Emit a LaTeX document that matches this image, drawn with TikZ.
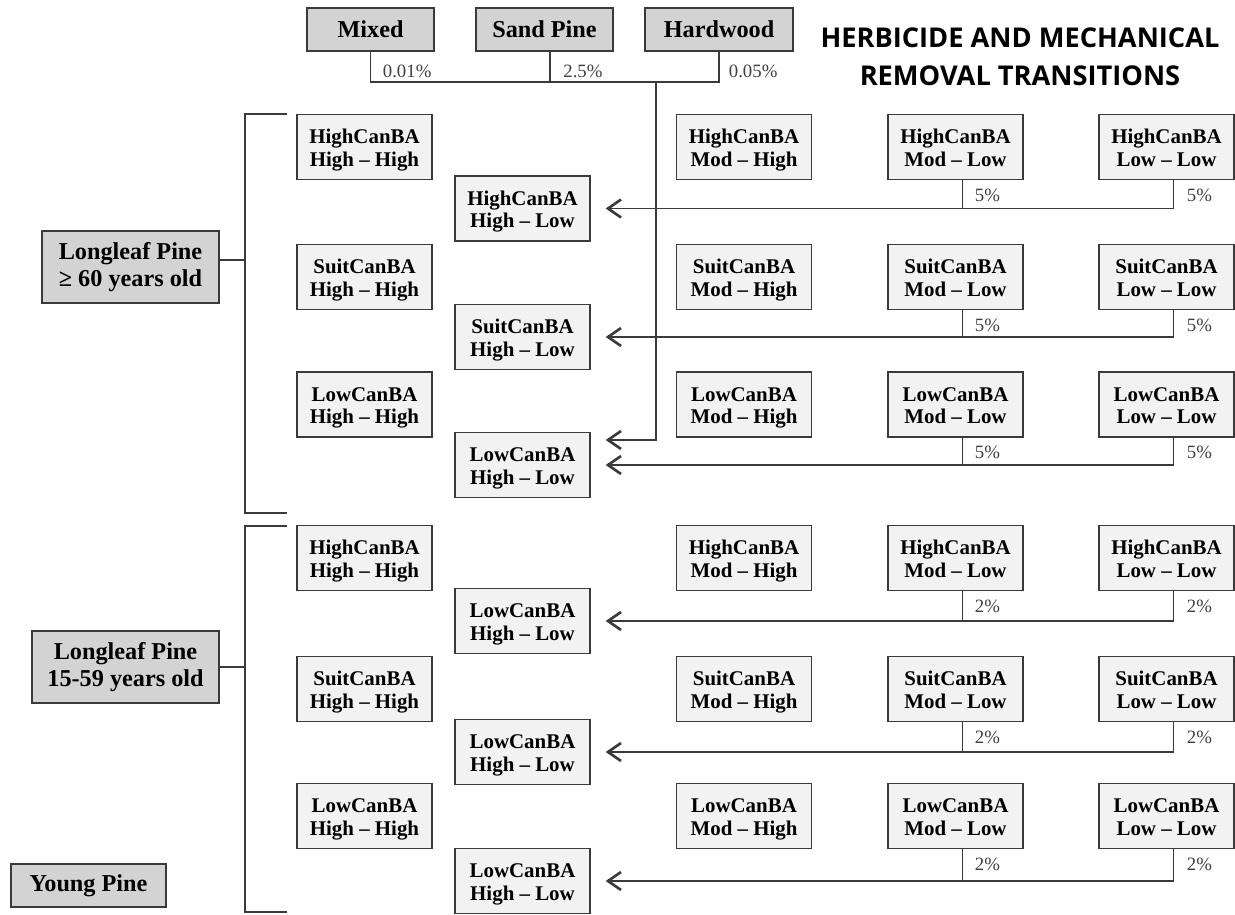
\documentclass[tikz,border=0pt]{standalone}
\usepackage{fontspec}
\setmainfont{Liberation Serif}
\newfontfamily\headfont{Open Sans}
\usetikzlibrary{positioning,arrows.meta}

\definecolor{boxgray}{HTML}{D3D3D3}
\definecolor{cellgray}{HTML}{F2F2F2}
\definecolor{linegray}{HTML}{3A3A3A}

% two-line state label, set so that both lines sit centred in the box
\newcommand{\statelabel}[2]{\rule{0pt}{9pt}#1\\\smash{#2}}

\tikzset{
  cover/.style={draw=linegray, line width=0.8pt, fill=boxgray, align=center, inner sep=0pt,
    font=\fontsize{13.8}{15.8}\selectfont\bfseries},
  cell/.style={draw=linegray, line width=0.8pt, fill=cellgray, align=center, inner sep=0pt,
    minimum width=2.7cm, minimum height=1.3cm, font=\fontsize{11.9}{12.9}\selectfont\bfseries},
  pct/.style={font=\fontsize{10.7}{12}\selectfont, text=black!75, inner sep=0pt, anchor=west},
  link/.style={draw=linegray, line width=1pt},
  move/.style={link, -{Straight Barb[length=2.6mm, width=3.6mm, line width=1.5pt]}, shorten >=0.3cm},
}

\begin{document}
\begin{tikzpicture}[x=0.02cm, y=-0.02cm]
  \useasboundingbox (0,0) rectangle (1235,915);

  % source covers at the top
  \node[cover, minimum width=2.54cm, minimum height=0.86cm] (mixed) at (370.5,29.5) {Mixed};
  \node[cover, minimum width=2.74cm, minimum height=0.86cm] (sand) at (544.5,29.5) {Sand Pine};
  \node[cover, minimum width=2.96cm, minimum height=0.86cm] (hard) at (719,29.5) {Hardwood};
  \node[font=\headfont\fontsize{15.5}{21.6}\selectfont\bfseries, align=center] (title) at (1020,57)
    {HERBICIDE AND MECHANICAL\\REMOVAL TRANSITIONS};

  % age classes on the left
  \node[cover, minimum width=3.54cm, minimum height=1.44cm] (old) at (130.5,267) {Longleaf Pine\\≥ 60 years old};
  \node[cover, minimum width=3.74cm, minimum height=1.44cm] (mid) at (125.5,667) {Longleaf Pine\\15-59 years old};
  \node[cover, minimum width=3.1cm, minimum height=0.86cm] (young) at (88.5,885.5) {Young Pine};

  \coordinate (oldtop) at (287,114);
  \coordinate (oldbot) at (287,513);
  \coordinate (midtop) at (287,526);
  \coordinate (midbot) at (287,912);
  \draw[link] (oldtop) -- ++(-42,0) |- (oldbot);
  \draw[link] (midtop) -- ++(-42,0) |- (midbot);
  \draw[link] ([yshift=0.14cm]old.east) -- ([yshift=0.14cm]old.east -| 245,0);
  \draw[link] (mid.east) -- (mid.east -| 245,0);

  % state boxes, one row per structure class
  \foreach \row/\yc/\ya/\lab/\labl/\pc in {
      1/147/208.5/HighCanBA/HighCanBA/5, 2/277/337/SuitCanBA/SuitCanBA/5,
      3/404.5/465/LowCanBA/LowCanBA/5, 4/558/621/HighCanBA/LowCanBA/2,
      5/689/752/SuitCanBA/LowCanBA/2, 6/816/881/LowCanBA/LowCanBA/2} {
    \node[cell] (hh-\row) at (364.5,\yc) {\statelabel{\lab}{High -- High}};
    \node[cell] (hl-\row) at (522.5,\ya) {\statelabel{\labl}{High -- Low}};
    \node[cell] (mh-\row) at (744,\yc) {\statelabel{\lab}{Mod -- High}};
    \node[cell] (ml-\row) at (955.5,\yc) {\statelabel{\lab}{Mod -- Low}};
    \node[cell] (ll-\row) at (1166.5,\yc) {\statelabel{\lab}{Low -- Low}};
    \draw[move] ([xshift=0.14cm]ll-\row.south) |- (hl-\row.east);
    \draw[link] ([xshift=0.14cm]ml-\row.south) -- ([xshift=0.14cm]ml-\row.south |- hl-\row.east);
    \node[pct] (pml-\row) at ([xshift=0.38cm, yshift=-0.3cm]ml-\row.south) {\pc\%};
    \node[pct] (pll-\row) at ([xshift=0.4cm, yshift=-0.3cm]ll-\row.south) {\pc\%};
  }

  % covers feeding the oldest low class
  \coordinate (join) at (656,82);
  \draw[link] (mixed.south) -- (mixed.south |- join) -- (hard.south |- join) -- (hard.south);
  \draw[link] ([xshift=0.11cm]sand.south) -- ([xshift=0.11cm]sand.south |- join);
  \draw[move] (join) |- ([yshift=0.5cm]hl-3.east);
  \node[pct] (pmix) at ([xshift=0.24cm, yshift=-0.4cm]mixed.south) {0.01\%};
  \node[pct] (psand) at ([xshift=0.37cm, yshift=-0.4cm]sand.south) {2.5\%};
  \node[pct] (phard) at ([xshift=0.19cm, yshift=-0.4cm]hard.south) {0.05\%};
\end{tikzpicture}
\end{document}
